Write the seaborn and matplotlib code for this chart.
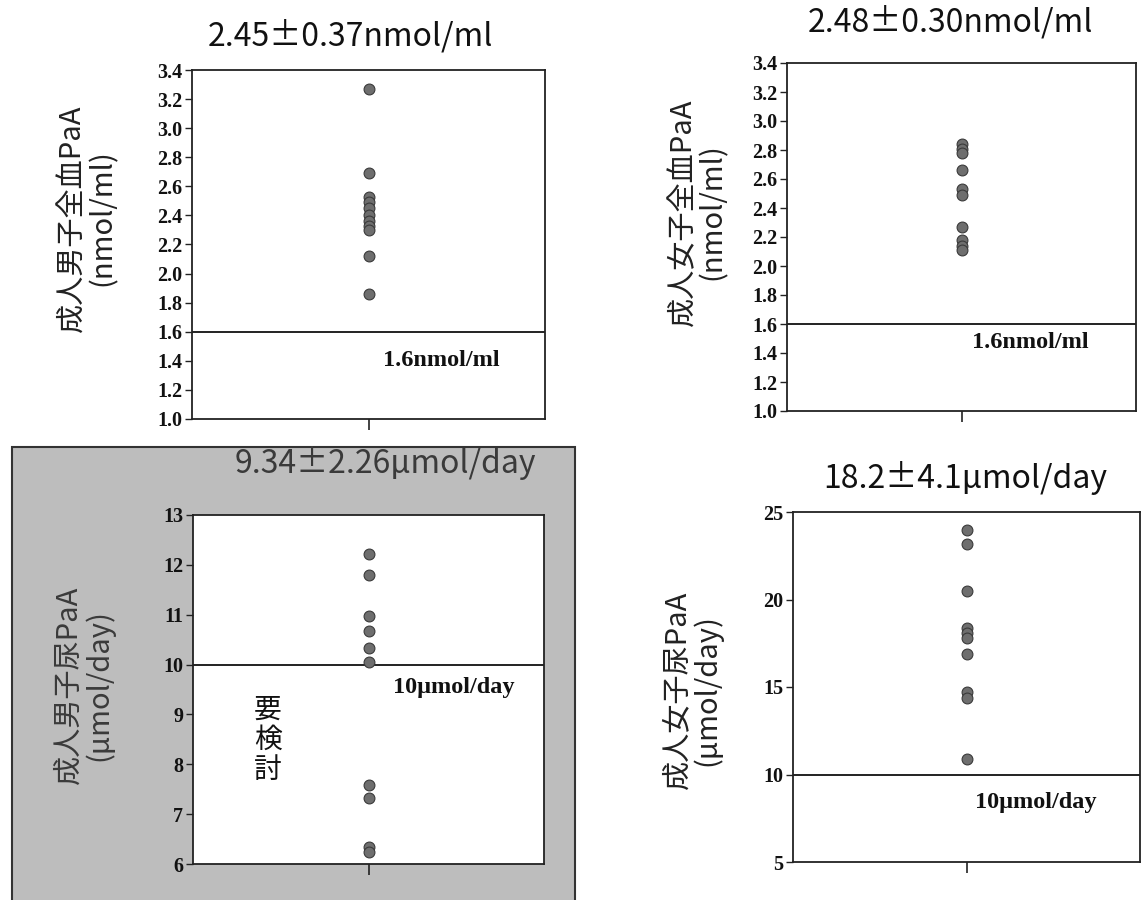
import numpy as np
import matplotlib
matplotlib.use("Agg")
import matplotlib.pyplot as plt
import matplotlib.transforms as mtransforms
from matplotlib.patches import Rectangle
import seaborn as sns

# ---------------- data ----------------
male_blood = [3.27, 2.69, 2.53, 2.49, 2.45, 2.40, 2.36, 2.33, 2.30, 2.12, 1.86]
female_blood = [2.84, 2.81, 2.78, 2.66, 2.53, 2.49, 2.27, 2.18, 2.14, 2.11]
male_urine = [12.22, 11.80, 10.98, 10.67, 10.34, 10.06, 7.59, 7.32, 6.35, 6.25]
female_urine = [24.0, 23.2, 20.5, 18.4, 18.1, 17.8, 16.9, 14.7, 14.4, 10.9]

titles = ["2.45±0.37nmol/ml", "2.48±0.30nmol/ml",
          "9.34±2.26μmol/day", "18.2±4.1μmol/day"]
ylabels = ["成人男子全血PaA\n(nmol/ml)", "成人女子全血PaA\n(nmol/ml)",
           "成人男子尿PaA\n(μmol/day)", "成人女子尿PaA\n(μmol/day)"]
thresholds = [1.6, 1.6, 10, 10]
threshold_labels = ["1.6nmol/ml", "1.6nmol/ml", "10μmol/day", "10μmol/day"]
blood_ticks = [1.0, 1.2, 1.4, 1.6, 1.8, 2.0, 2.2, 2.4, 2.6, 2.8, 3.0, 3.2, 3.4]
male_urine_ticks = [6, 7, 8, 9, 10, 11, 12, 13]
female_urine_ticks = [5, 10, 15, 20, 25]
note_text = "要\n検\n討"

# ---------------- style ----------------
sns.set_style("white")
CJK = ["Noto Sans CJK JP", "DejaVu Sans"]
SERIF = ["Liberation Serif", "DejaVu Serif"]
plt.rcParams["font.family"] = CJK

W, H = 1144, 900
fig = plt.figure(figsize=(W / 100, H / 100), dpi=100)


def fx(x):
    return x / W


def fy(y):
    return 1 - y / H


# grey shaded box behind lower-left panel
bg = Rectangle((fx(12), fy(902)), fx(575) - fx(12), fy(447) - fy(902),
               transform=fig.transFigure, facecolor="#bdbdbd",
               edgecolor="#333333", linewidth=1.5, zorder=-10)
fig.add_artist(bg)

# axes boxes in pixels: left, top, right, bottom
boxes = [(192, 70, 545, 419), (787, 63, 1136, 411),
         (193, 515, 544, 864), (793, 512, 1140, 862)]
datasets = [male_blood, female_blood, male_urine, female_urine]
ticksets = [blood_ticks, blood_ticks, male_urine_ticks, female_urine_ticks]
tick_fmt = ["{:.1f}", "{:.1f}", "{:d}", "{:d}"]
title_pos = [(350, 36), (950, 22), (385, 463), (965, 478)]
ylabel_pos = [(88, 218), (698, 212), (84, 685), (692, 690)]
thr_text_pos = [(0.54, 1.40), (0.53, 1.47), (0.57, 9.55), (0.525, 8.4)]

for i in range(4):
    l, t, r, b = boxes[i]
    ax = fig.add_axes([fx(l), fy(b), fx(r) - fx(l), fy(t) - fy(b)])
    ax.set_zorder(1)
    ax.set_facecolor("white")
    sns.stripplot(y=datasets[i], jitter=False, ax=ax, color="#6e6e6e",
                  edgecolor="#3a3a3a", linewidth=0.8, size=7.8, zorder=3)
    ax.set_xlim(-1, 1)
    ticks = ticksets[i]
    ax.set_ylim(ticks[0], ticks[-1])
    ax.set_yticks(ticks)
    ax.set_yticklabels([tick_fmt[i].format(v) for v in ticks],
                       fontfamily=SERIF, fontweight="bold", fontsize=14.5)
    ax.set_xticks([0])
    ax.set_xticklabels([""])
    ax.tick_params(axis="y", direction="out", length=5, width=1, left=True,
                   color="#222222", pad=2, labelcolor="#111111")
    ax.tick_params(axis="x", direction="out", length=8, width=1.2, bottom=True,
                   color="#222222")
    ax.set_xlabel("")
    ax.set_ylabel("")
    for sp in ax.spines.values():
        sp.set_visible(True)
        sp.set_color("#222222")
        sp.set_linewidth(1.3)
    ax.axhline(thresholds[i], color="#111111", linewidth=1.3, zorder=2)
    trans = mtransforms.blended_transform_factory(ax.transAxes, ax.transData)
    tx, ty = thr_text_pos[i]
    ax.text(tx, ty, threshold_labels[i], transform=trans, ha="left", va="center",
            fontfamily=SERIF, fontweight="bold", fontsize=17.5, color="#111111")
    if i == 2:
        ax.text(0.214, 8.49, note_text, transform=trans, ha="center", va="center",
                fontfamily=CJK, fontsize=20, linespacing=1.0, color="#111111")

    # title
    px_, py_ = title_pos[i]
    fig.text(fx(px_), fy(py_), titles[i], ha="center", va="center",
             fontsize=23, color="#3a3a3a" if i == 2 else "#111111", zorder=5)
    # y label
    lx, ly = ylabel_pos[i]
    fig.text(fx(lx), fy(ly), ylabels[i], ha="center", va="center", rotation=90,
             multialignment="center", fontsize=21, linespacing=1.0,
             color="#3a3a3a" if i == 2 else "#222222", zorder=5)

fig.savefig("out.png", dpi=100, facecolor="white")
